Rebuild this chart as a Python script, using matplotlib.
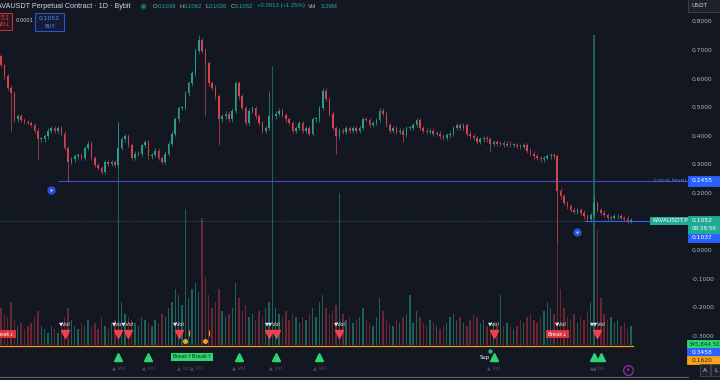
import matplotlib.pyplot as plt
import matplotlib.patches as mpatches
import matplotlib.transforms as mtrans
from matplotlib.lines import Line2D
import numpy as np

# daily closes (left -> right)
closes = [0.65, 0.61, 0.57, 0.55, 0.46, 0.47, 0.457, 0.45, 0.447, 0.44,
          0.42, 0.39, 0.39, 0.40, 0.42, 0.43, 0.42, 0.43, 0.41, 0.36,
          0.31, 0.32, 0.33, 0.335, 0.325, 0.36, 0.375, 0.325, 0.30, 0.29,
          0.275, 0.31, 0.305, 0.31, 0.30, 0.36, 0.39, 0.40, 0.37, 0.325,
          0.34, 0.34, 0.37, 0.38, 0.33, 0.335, 0.35, 0.325, 0.31, 0.34,
          0.375, 0.41, 0.46, 0.50, 0.50, 0.55, 0.585, 0.62, 0.70, 0.737,
          0.70, 0.655, 0.585, 0.57, 0.54, 0.46, 0.47, 0.48, 0.46, 0.49,
          0.585, 0.54, 0.50, 0.447, 0.49, 0.50, 0.47, 0.447, 0.42, 0.43,
          0.47, 0.47, 0.48, 0.49, 0.475, 0.46, 0.447, 0.42, 0.43, 0.447,
          0.42, 0.43, 0.41, 0.46, 0.46, 0.50, 0.56, 0.53, 0.48, 0.43,
          0.40, 0.42, 0.415, 0.43, 0.42, 0.43, 0.42, 0.43, 0.46, 0.457,
          0.44, 0.447, 0.457, 0.49, 0.48, 0.44, 0.42, 0.43, 0.415, 0.42,
          0.405, 0.43, 0.43, 0.44, 0.457, 0.43, 0.42, 0.415, 0.42, 0.41,
          0.41, 0.40, 0.395, 0.405, 0.41, 0.43, 0.44, 0.43, 0.44, 0.41,
          0.40, 0.395, 0.38, 0.39, 0.395, 0.39, 0.375, 0.38, 0.375, 0.377,
          0.37, 0.375, 0.37, 0.37, 0.367, 0.363, 0.37, 0.35, 0.34, 0.33,
          0.325, 0.32, 0.325, 0.33, 0.335, 0.33, 0.21, 0.19, 0.167, 0.155,
          0.143, 0.137, 0.143, 0.133, 0.12, 0.11, 0.125, 0.167, 0.143, 0.133,
          0.125, 0.115, 0.115, 0.12, 0.12, 0.115, 0.112, 0.105, 0.1052]
first_open = 0.68
wick_lows = {3: 0.42, 11: 0.32, 20: 0.24, 61: 0.47, 65: 0.37, 100: 0.34,
             120: 0.38, 146: 0.345, 166: 0.03}
wick_highs = {35: 0.45, 59: 0.755, 80: 0.56, 96: 0.57, 177: 0.19}

# volume (M), same bars
volumes = [12, 10, 9, 14, 8, 6, 7, 5, 6, 7, 9, 11, 6, 5, 4, 6, 5, 4, 7, 9,
           12, 8, 6, 5, 7, 6, 8, 6, 7, 5, 9, 6, 5, 7, 8,
           72,
           14, 10, 9, 8, 7, 6, 9, 8, 7, 6, 8, 7, 10, 9, 12, 14, 18, 16, 13,
           44,
           15, 18, 20, 17,
           41,
           22, 16, 12, 14, 18, 11, 9, 10, 12, 20, 15, 11, 13, 9, 10, 8, 11, 9, 12, 14,
           90,
           12, 10, 9, 11, 8, 10, 9, 7, 9, 8, 10, 12, 9, 14, 16, 12, 10, 11, 13,
           49,
           10, 8, 9, 7, 8, 9, 12, 8, 7, 6, 9, 15, 11, 8, 7, 6, 8, 7, 9, 10,
           16, 7, 11, 9, 7, 6, 8, 7, 6, 5, 6, 7, 9, 10, 8, 9, 7, 6, 8, 10,
           9, 7, 8, 6, 5, 7, 6, 16, 6, 7, 6, 5, 6, 8, 7, 9, 10, 8, 7, 9,
           11, 14, 12, 10,
           61,
           18, 12, 9, 8, 10, 7, 9, 8, 11, 14,
           100, 37,
           15, 10, 8, 9, 7, 8, 6, 7, 5, 6]

# signal markers (bar indices)
vol_down_idx = [19, 35, 38, 53, 80, 82, 101, 147, 178]
vol_down_labels = [(19, '▼Vol'), (36.5, '▼Vo▼Vol'), (53, '▼Vol'), (81, '▼▼Vol'),
                   (101, '▼Vol'), (147, '▼Vol'), (167, '▼Vol'), (178, '▼▼Vol')]
vol_up_idx = [35, 44, 71, 82, 95, 147, 177, 179]
vol_up_labels = [(35, '▲ Vol'), (44, '▲ Vol'), (56.5, '▲ Vol▲ Vol'), (71, '▲ Vol'),
                 (82, '▲ Vol'), (95, '▲ Vol'), (147, '▲ Vol'), (178, '▲▲Vol')]
break_down_idx = [1, 166]
break_up_idx = [57]
orange_dot_idx = [55, 61]
orange_tick_idx = [56, 62]
alert_idx = [15, 172]
alert_price = [0.212, 0.066]
sup_idx = 147
local_level = 0.2455
local_level_start = 17
level2 = 0.1037
level2_start = 174
yticks = [0.8, 0.7, 0.6, 0.5, 0.4, 0.3, 0.2, 0.0, -0.1, -0.2, -0.3]

BG = '#131722'
TXT = '#b2b5be'
GREEN = '#22ab94'
RED = '#f23645'
BLUE = '#2962ff'
W, H = 720, 380

fig = plt.figure(figsize=(7.2, 3.8), dpi=100, facecolor=BG)
ax = fig.add_axes([0, 3 / H, 688 / W, 377 / H])
axv = ax.twinx()
ax.set_zorder(axv.get_zorder() + 1)
ax.patch.set_visible(False)
axv.set_facecolor(BG)

n = len(closes)
x = np.arange(n)
c = np.array(closes)
o = np.array([first_open] + closes[:-1])
up = c >= o
col = np.where(up, '#2a9d87', '#d0434f')

step = 630 / (n - 1)
xmax = 688 / step - 0.3
ybot, ytop = -0.4413, 0.8769
ax.set_xlim(-0.3, xmax)
ax.set_ylim(ybot, ytop)
axv.set_ylim(-10.33, 111.3)
for a in (ax, axv):
    a.set_xticks([])
    a.set_yticks([])
    for s in a.spines.values():
        s.set_visible(False)

# volume
axv.bar(x, volumes, width=0.42, color=np.where(up, '#1f6f62', '#7a2a35'),
        linewidth=0, alpha=0.85)

# candles
lo = np.minimum(o, c) - 0.008
hi = np.maximum(o, c) + 0.008
for i, v in wick_lows.items():
    lo[i] = v
for i, v in wick_highs.items():
    hi[i] = v
ax.vlines(x, lo, hi, colors=col, lw=0.5, zorder=3)
ax.bar(x, np.maximum(np.abs(c - o), 0.003), bottom=np.minimum(o, c),
       width=0.48, color=col, linewidth=0, zorder=4)

# levels
ax.axhline(closes[-1], color=GREEN, ls=(0, (1, 2)), lw=0.5, alpha=0.8, zorder=2)
ax.hlines(local_level, local_level_start, xmax, color='#3b50b8', lw=0.8, zorder=2)
ax.hlines(level2, level2_start, xmax, color=BLUE, lw=0.8, zorder=2)
ax.text(xmax - 0.6, local_level, 'Local level', color='#5b72d6', fontsize=4.3,
        ha='right', va='center', zorder=6)
ax.text(xmax - 0.1, closes[-1], 'KAVAUSDT.P', color='white', fontsize=4.2,
        ha='right', va='center', zorder=6,
        bbox=dict(boxstyle='square,pad=0.25', fc=GREEN, ec='none'))

# alert icons
ax.plot(alert_idx, alert_price, 'o', ms=5, mfc='#2d4fd8', mec='#2d4fd8', zorder=6)
ax.plot(alert_idx, alert_price, 'o', ms=1.6, mfc='#c8d2ff', mec='none', zorder=7)

# bottom signal strip
tr = mtrans.blended_transform_factory(ax.transData, ax.transAxes)
def yf(ypx):
    return 1 - ypx / 377

ax.plot([-0.3, n - 0.5], [yf(346), yf(346)], transform=tr, color='#f0a020', lw=0.9, zorder=5)
ax.plot(vol_down_idx, [yf(334)] * len(vol_down_idx), 'v', ms=6, color='#f0414f',
        transform=tr, zorder=6)
for i, s in vol_down_labels:
    ax.text(i, yf(324), s, color='#e6e6e6', fontsize=3.8, ha='center',
            va='center', transform=tr, zorder=7)
ax.plot(vol_up_idx, [yf(357)] * len(vol_up_idx), '^', ms=6, color='#2ed573',
        transform=tr, zorder=6)
for i, s in vol_up_labels:
    ax.text(i, yf(368), s, color='#4a4e5a', fontsize=3.6, ha='center',
            va='center', transform=tr, zorder=7)
for i in break_down_idx:
    ax.text(i, yf(334), 'Break↓', color='white', fontsize=3.8, ha='center',
            va='center', transform=tr, zorder=8, clip_on=True,
            bbox=dict(boxstyle='square,pad=0.3', fc='#e0323f', ec='none'))
for i in break_up_idx:
    ax.text(i, yf(357), 'Break↑Break↑', color='#0b3d1f', fontsize=3.8, ha='center',
            va='center', transform=tr, zorder=8,
            bbox=dict(boxstyle='square,pad=0.3', fc='#2ed573', ec='none'))
ax.plot(orange_dot_idx, [yf(341)] * 2, 'o', ms=2.6, color='#f0a020', transform=tr, zorder=6)
ax.vlines(orange_tick_idx, yf(336), yf(330), color='#f0a020', lw=0.8, transform=tr, zorder=6)
ax.text(sup_idx - 1.2, yf(357), 'Sup', color='white', fontsize=3.8, ha='right',
        va='center', transform=tr, zorder=7)
ax.plot([sup_idx - 1], [yf(351)], 'o', ms=2.2, color=GREEN, transform=tr, zorder=7)
ax.plot([-0.3, xmax], [yf(376.5), yf(376.5)], transform=tr, color='#5d606b', lw=0.8,
        clip_on=False, zorder=5)

# ---- figure-level overlays (pixel helpers)
def price_px(p):
    return (ytop - p) / (ytop - ybot) * 377

def box(x0, y0, x1, y1, fc, ec=None, lw=0.6):
    r = mpatches.Rectangle((x0 / W, 1 - y1 / H), (x1 - x0) / W, (y1 - y0) / H,
                           transform=fig.transFigure, facecolor=fc,
                           edgecolor=ec if ec else fc, lw=lw, zorder=5)
    fig.patches.append(r)

def ftext(xp, yp, s, color=TXT, fs=4.3, ha='left', **kw):
    fig.text(xp / W, 1 - yp / H, s, color=color, fontsize=fs, ha=ha,
             va='center', zorder=6, **kw)

# price scale
for t in yticks:
    ftext(692, price_px(t), f'{t:.4f}', fs=4.3)
box(688, -1, 721, 12, '#1e222d', '#434651')
ftext(691, 5.5, 'USDT', color='#d1d4dc', fs=4.2)

yl = price_px(local_level)
box(688, yl - 5, 721, yl + 5, BLUE)
ftext(692, yl, f'{local_level:.4f}', color='white')
yc = price_px(closes[-1])
box(688, yc - 5, 721, yc + 13, GREEN)
ftext(692, yc, f'{closes[-1]:.4f}', color='white')
ftext(692, yc + 8, '09:38:56', color='white', fs=4.1)
box(688, yc + 13, 721, yc + 21, BLUE)
ftext(692, yc + 17, f'{level2:.4f}', color='white')

box(687, 340, 721, 348, '#2ed573')
ftext(689, 344, '345,844.50', color='#0b3d1f', fs=4.0)
box(687, 348, 721, 356, BLUE)
ftext(692, 352, '0.3458', color='white')
box(687, 356, 721, 364, '#f7a21b')
ftext(692, 360, '0.1620', color='#3a2400')
for xb, s in [(705, 'A'), (716, 'L')]:
    box(xb - 5, 364, xb + 5, 376, '#1e222d', '#434651')
    ftext(xb, 370, s, color='#d1d4dc', fs=4.3, ha='center')
fig.add_artist(Line2D([628 / W], [1 - 370 / H], marker='o', ms=7, mfc='none',
                      mec='#9c27b0', mew=0.9, transform=fig.transFigure))
ftext(628, 370, '⚡', color='#b05cd0', fs=4.5, ha='center')

# header
ftext(-8, 6, 'KAVAUSDT Perpetual Contract · 1D · Bybit', color='#d1d4dc', fs=5.2,
      family='Liberation Sans')
fig.add_artist(Line2D([143 / W], [1 - 6 / H], marker='o', ms=3.5, color='#1b7f6d',
                      mec='#0f4a40', transform=fig.transFigure))
hdr = [(153, 'O', TXT), (158, '0.1039', GREEN), (179, 'H', TXT), (184, '0.1062', GREEN),
       (205, 'L', TXT), (209, '0.1026', GREEN), (231, 'C', TXT), (235, '0.1052', GREEN),
       (257, '+0.0013 (+1.25%)', GREEN), (308, 'Vol', TXT), (321, '3.29M', GREEN)]
for xp, s, cc in hdr:
    ftext(xp, 6, s, color=cc, fs=4.3, family='Liberation Sans')

box(-20, 13, 12, 30, '#2a1820', RED)
ftext(10, 18, '0.1051', color=RED, fs=4.8, ha='right')
ftext(10, 25, 'SELL', color=RED, fs=3.8, ha='right')
ftext(16, 21, '0.0001', color='#d1d4dc', fs=3.6)
box(35, 13, 64, 31, '#151c33', BLUE)
ftext(49.5, 18, '0.1052', color='#5b8cff', fs=4.3, ha='center')
ftext(49.5, 26, 'BUY', color='#5b8cff', fs=3.8, ha='center')

fig.savefig('out.png', dpi=100, facecolor=BG)
